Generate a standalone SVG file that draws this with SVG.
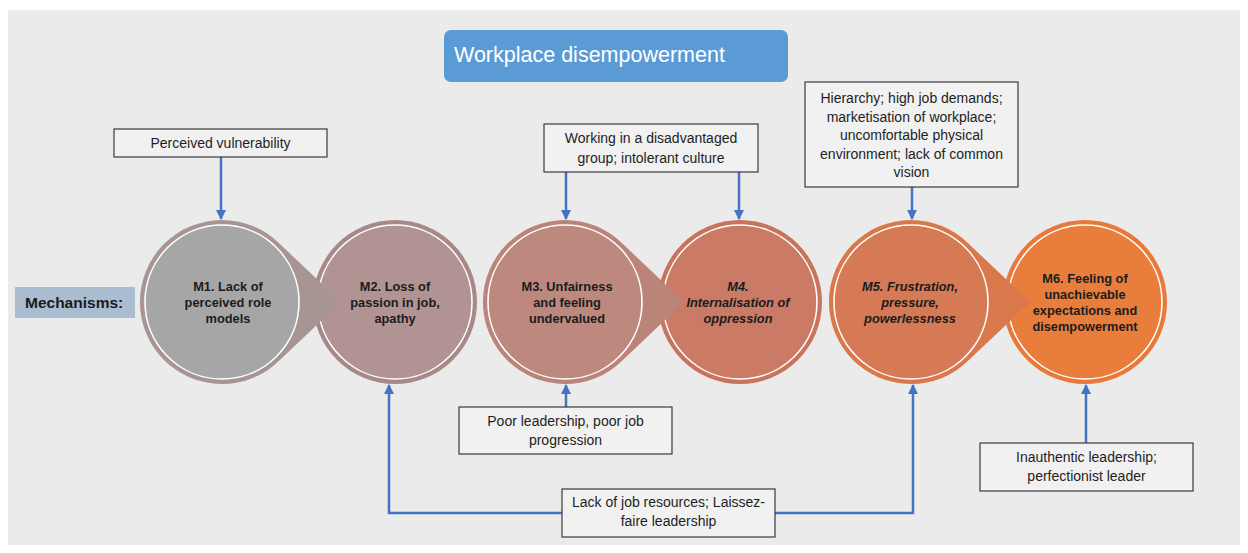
<svg xmlns="http://www.w3.org/2000/svg" width="1248" height="553" viewBox="0 0 1248 553">
<defs>
<style>
.box{fill:#f1f1f1;stroke:#3a3a3a;stroke-width:1.2}
.bt{font-family:"Liberation Sans",Arial,sans-serif;font-size:14px;fill:#1e1e1e;text-anchor:middle}
.mt{font-family:"Liberation Sans",Arial,sans-serif;font-size:12.8px;font-weight:bold;fill:#1c1c1c;text-anchor:middle}
.it{font-style:italic}
.ring{stroke:#ffffff;stroke-width:1.6}
.con{fill:none;stroke:#4472c4;stroke-width:2.5}
</style>
<marker id="ah" markerUnits="userSpaceOnUse" markerWidth="10" markerHeight="10" viewBox="0 0 10 10" refX="9" refY="5" orient="auto">
<path d="M0,0 L10,5 L0,10 z" fill="#4472c4"/>
</marker>
</defs>
<rect x="0" y="0" width="1248" height="553" fill="#ffffff"/>
<rect x="8" y="10" width="1232" height="535" fill="#ebebeb"/>

<g id="title">
<rect x="444" y="30" width="344" height="52" rx="7" fill="#5b9bd5"/>
<text x="454" y="62" font-family="Liberation Sans,Arial,sans-serif" font-size="21.5" fill="#ffffff">Workplace disempowerment</text>
</g>

<g id="mechanisms-label">
<rect x="15" y="287" width="120" height="31" fill="#a9bcd0"/>
<text x="25" y="308" font-family="Liberation Sans,Arial,sans-serif" font-size="15.5" font-weight="bold" fill="#1a1a1a">Mechanisms:</text>
</g>

<g id="M2">
<circle cx="395" cy="302" r="82" fill="#a98888"/>
<circle cx="395" cy="302" r="77" fill="#b29393" class="ring"/>
<text class="mt"><tspan x="395" y="291">M2. Loss of</tspan><tspan x="395" y="307">passion in job,</tspan><tspan x="395" y="323">apathy</tspan></text>
</g>
<g id="M4">
<circle cx="740" cy="302" r="82" fill="#c8745c"/>
<circle cx="740" cy="302" r="77" fill="#cb7b65" class="ring"/>
</g>
<g id="M6">
<circle cx="1085" cy="302" r="82" fill="#e8793a"/>
<circle cx="1085" cy="302" r="77" fill="#e97e3c" class="ring"/>
<text class="mt"><tspan x="1085" y="283">M6. Feeling of</tspan><tspan x="1085" y="299">unachievable</tspan><tspan x="1085" y="315">expectations and</tspan><tspan x="1085" y="331">disempowerment</tspan></text>
</g>

<g id="M1">
<path d="M341,302 L279.6,243.7 A82,82 0 1 0 279.6,360.3 Z" fill="#a99494"/>
<circle cx="222" cy="302" r="77" fill="#a6a6a6" class="ring"/>
<text class="mt"><tspan x="228" y="291">M1. Lack of</tspan><tspan x="228" y="307">perceived role</tspan><tspan x="228" y="323">models</tspan></text>
</g>
<g id="M3">
<path d="M684,302 L622.6,243.7 A82,82 0 1 0 622.6,360.3 Z" fill="#bb8479"/>
<circle cx="565" cy="302" r="77" fill="#bd887e" class="ring"/>
<text class="mt"><tspan x="567" y="291">M3. Unfairness</tspan><tspan x="567" y="307">and feeling</tspan><tspan x="567" y="323">undervalued</tspan></text>
</g>
<g id="M4-text">
<text class="mt it"><tspan x="738" y="291">M4.</tspan><tspan x="738" y="307">Internalisation of</tspan><tspan x="738" y="323">oppression</tspan></text>
</g>
<g id="M5">
<path d="M1030,302 L968.6,243.7 A82,82 0 1 0 968.6,360.3 Z" fill="#d8784b"/>
<circle cx="911" cy="302" r="77" fill="#d57a55" class="ring"/>
<text class="mt it"><tspan x="910" y="291">M5. Frustration,</tspan><tspan x="910" y="307">pressure,</tspan><tspan x="910" y="323">powerlessness</tspan></text>
</g>

<g id="connectors">
<path class="con" d="M221,157 V219" marker-end="url(#ah)"/>
<path class="con" d="M566,172 V219" marker-end="url(#ah)"/>
<path class="con" d="M739,172 V219" marker-end="url(#ah)"/>
<path class="con" d="M912,187 V219" marker-end="url(#ah)"/>
<path class="con" d="M566,407 V385" marker-end="url(#ah)"/>
<path class="con" d="M1086,443 V385" marker-end="url(#ah)"/>
<path class="con" d="M562,513 H389 V385" marker-end="url(#ah)"/>
<path class="con" d="M775,513 H913 V385" marker-end="url(#ah)"/>
</g>

<g id="box-vulnerability">
<rect class="box" x="114" y="129" width="213" height="28"/>
<text class="bt" x="220.5" y="148">Perceived vulnerability</text>
</g>
<g id="box-disadvantaged">
<rect class="box" x="544" y="124" width="214" height="48"/>
<text class="bt"><tspan x="651" y="143">Working in a disadvantaged</tspan><tspan x="651" y="163">group; intolerant culture</tspan></text>
</g>
<g id="box-hierarchy">
<rect class="box" x="805" y="82" width="213" height="105"/>
<text class="bt"><tspan x="911.5" y="103">Hierarchy; high job demands;</tspan><tspan x="911.5" y="121.5">marketisation of workplace;</tspan><tspan x="911.5" y="140">uncomfortable physical</tspan><tspan x="911.5" y="158.5">environment; lack of common</tspan><tspan x="911.5" y="177">vision</tspan></text>
</g>
<g id="box-poor-leadership">
<rect class="box" x="459" y="407" width="213" height="47"/>
<text class="bt"><tspan x="565.5" y="426">Poor leadership, poor job</tspan><tspan x="565.5" y="445">progression</tspan></text>
</g>
<g id="box-resources">
<rect class="box" x="562" y="489" width="213" height="48"/>
<text class="bt"><tspan x="668.5" y="507">Lack of job resources; Laissez-</tspan><tspan x="668.5" y="526">faire leadership</tspan></text>
</g>
<g id="box-inauthentic">
<rect class="box" x="980" y="443" width="213" height="48"/>
<text class="bt"><tspan x="1086.5" y="462">Inauthentic leadership;</tspan><tspan x="1086.5" y="481">perfectionist leader</tspan></text>
</g>
</svg>
